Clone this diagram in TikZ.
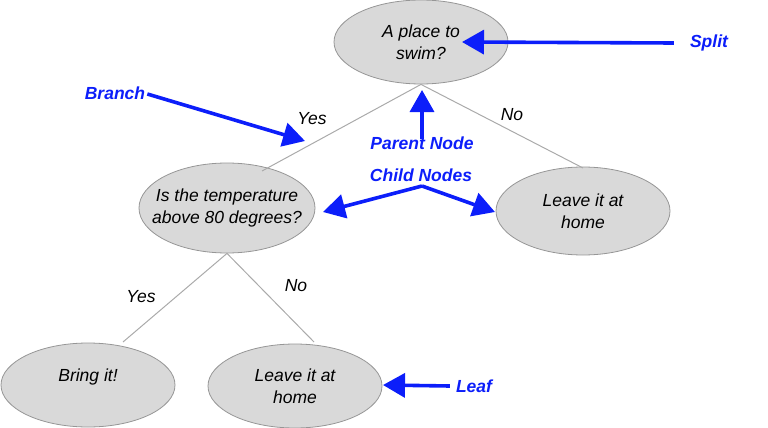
\documentclass[tikz,border=0pt]{standalone}
\usepackage{fontspec}
\setmainfont{Liberation Sans}
\usetikzlibrary{shapes.geometric,arrows.meta}
\definecolor{nodefill}{RGB}{217,217,217}
\definecolor{nodeline}{RGB}{150,150,150}
\definecolor{branchline}{RGB}{170,170,170}
\definecolor{annblue}{RGB}{12,30,250}
\tikzset{
  dnode/.style={ellipse, draw=nodeline, line width=0.8pt, fill=nodefill,
    minimum width=174pt, minimum height=84pt, inner sep=0pt},
  dtext/.style={align=center, inner sep=0pt,
    font=\fontsize{17.5}{22}\selectfont\itshape},
  branch/.style={draw=branchline, line width=1pt},
  blabel/.style={font=\fontsize{17.5}{20}\selectfont\itshape, inner sep=0pt},
  annot/.style={font=\fontsize{17.5}{20}\selectfont\bfseries\itshape, text=annblue, inner sep=0pt},
  annarrow/.style={draw=annblue, line width=3.6pt, -{Triangle[length=22pt,width=24pt]}}
}
\begin{document}
\begin{tikzpicture}[x=1pt,y=-1pt]
\useasboundingbox (0,0) rectangle (768,428);
% decision nodes
\node[dnode] (root) at (421,42) {};
\node[dnode, minimum width=176pt, minimum height=90pt] (temp) at (227,208) {};
\node[dnode, minimum height=88pt] (home1) at (583,211) {};
\node[dnode] (bring) at (88,385) {};
\node[dnode] (home2) at (295,386) {};
\node[dtext] (roott) at (root) {A place to\\swim?};
\node[dtext] (tempt) at (temp) {Is the temperature\\above 80 degrees?};
\node[dtext] (home1t) at (home1) {Leave it at\\home};
\node[dtext] (bringt) at ([yshift=8pt]bring.center) {Bring it!};
\node[dtext] (home2t) at (home2) {Leave it at\\home};
% branch ends
\coordinate (b1) at (262,171);
\coordinate (b2) at (583,168);
\coordinate (b3) at (123,342);
\coordinate (b4) at (314,342);
\draw[branch] (root.south) -- (b1);
\draw[branch] (root.south) -- (b2);
\draw[branch] (temp.south) -- (b3);
\draw[branch] (temp.south) -- (b4);
% branch labels
\node[blabel] (y1) at (312,119) {Yes};
\node[blabel] (n1) at (512,115) {No};
\node[blabel] (y2) at (141,297) {Yes};
\node[blabel] (n2) at (296,286) {No};
% annotations
\node[annot] (split) at (709,43) {Split};
\node[annot] (branchlab) at (115,93) {Branch};
\node[annot] (parent) at (422,143) {Parent Node};
\node[annot] (child) at (421,175) {Child Nodes};
\node[annot] (leaf) at (474,386) {Leaf};
\coordinate (splittip) at (462,42);
\coordinate (branchtip) at (305,141);
\coordinate (parenttip) at (422,90);
\coordinate (childapex) at (422,186);
\coordinate (childl) at (323,212);
\coordinate (childr) at (495,212);
\coordinate (leaftip) at (383,385);
\draw[annarrow] ([xshift=-16pt]split.west) -- (splittip);
\draw[annarrow] ([xshift=2pt,yshift=-1pt]branchlab.east) -- (branchtip);
\draw[annarrow] ([yshift=-3pt]parent.north) -- (parenttip);
\draw[annarrow] (childapex) -- (childl);
\draw[annarrow] (childapex) -- (childr);
\draw[annarrow] ([xshift=-6pt]leaf.west) -- (leaftip);
\end{tikzpicture}
\end{document}
